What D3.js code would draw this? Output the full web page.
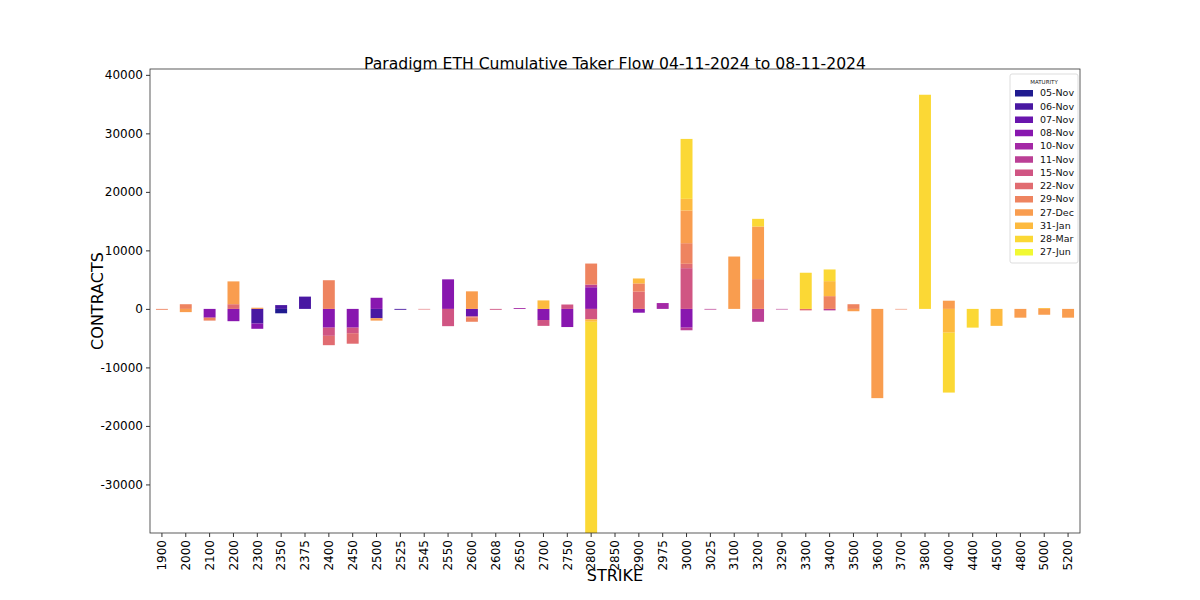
<!DOCTYPE html>
<html>
<head>
<meta charset="utf-8">
<script src="https://cdn.jsdelivr.net/npm/d3@7"></script>
<style>
  html, body { margin: 0; padding: 0; background: #fff; }
  svg { display: block; font-family: "DejaVu Sans", sans-serif; }
</style>
</head>
<body>
<svg id="chart" width="1200" height="600"></svg>
<script>
const strikes = ["1900","2000","2100","2200","2300","2350","2375","2400","2450","2500",
  "2525","2545","2550","2600","2608","2650","2700","2750","2800","2850",
  "2900","2975","3000","3025","3100","3200","3290","3300","3400","3500",
  "3600","3700","3800","4000","4400","4500","4800","5000","5200"];

const maturities = ["05-Nov","06-Nov","07-Nov","08-Nov","10-Nov","11-Nov","15-Nov","22-Nov","29-Nov","27-Dec","31-Jan","28-Mar","27-Jun"];

const nov05 = [0,0,0,0,0,-750,0,0,0,0, 0,0,0,0,0,0,0,0,0,0, 0,0,0,0,0,0,0,0,0,0, 0,0,0,0,0,0,0,0,0];
const nov06 = [0,0,0,0,-2500,650,2100,0,0,-1600, -150,0,0,0,0,0,0,0,0,0, 0,0,0,0,0,0,0,0,0,0, 0,0,0,0,0,0,0,0,0];
const nov07 = [0,0,0,0,0,0,0,0,0,0, 0,0,0,-1300,0,0,0,0,0,0, 0,0,0,0,0,0,0,0,0,0, 0,0,0,0,0,0,0,0,0];
const nov08 = [0,0,-1500,-2100,-900,0,0,-3200,-3200,1900, 0,0,5050,0,0,0,-1900,-3100,3700,0, -650,0,-3200,0,0,0,0,0,0,0, 0,0,0,0,0,0,0,0,0];
const nov10 = [0,0,0,0,0,0,0,0,0,0, 0,0,0,0,0,150,0,0,0,0, 0,1000,0,0,0,0,0,0,0,0, 0,0,0,0,0,0,0,0,0];
const nov11 = [0,0,0,0,0,0,0,0,0,0, 0,0,0,0,0,0,0,0,450,0, 0,0,-450,-120,0,-2200,-100,0,-250,0, 0,0,0,0,0,0,0,0,0];
const nov15 = [0,0,0,0,0,0,0,-1400,-950,0, 0,0,-2950,0,-150,0,-1000,750,-1800,0, 0,0,6960,0,0,0,0,0,0,0, 0,0,0,0,0,0,0,0,0];
const nov22 = [0,0,0,800,0,0,0,-1600,-1800,0, 0,-100,0,-150,0,0,0,0,0,0, 2950,0,750,0,0,0,0,-250,0,0, 0,0,0,0,0,0,0,0,0];
const nov29 = [-150,800,-500,0,0,0,0,4900,0,0, 0,0,0,-750,0,0,0,0,3600,0, 1400,0,3520,0,0,5090,0,0,2180,800, 0,-100,0,0,0,0,0,0,0];
const dec27 = [0,-550,0,3900,200,0,0,0,0,-400, 0,0,0,3000,0,0,0,0,0,0, 0,0,5580,0,8950,8990,0,0,0,-400, -15250,0,0,1400,0,0,-1500,-1000,-1500];
const jan31 = [0,0,0,0,0,0,0,0,0,0, 0,0,0,0,0,0,1450,0,-400,0, 850,0,2000,0,0,0,0,0,2560,0, 0,0,0,-4060,0,-2900,0,150,0];
const mar28 = [0,0,0,0,0,0,0,0,0,0, 0,0,0,0,0,0,0,0,-40000,0, 0,0,10240,0,0,1310,0,6180,2000,0, 0,0,36600,-10240,-3200,0,0,0,0];
const jun27 = [0,0,0,0,0,0,0,0,0,0, 0,0,0,0,0,0,0,0,0,0, 0,0,0,0,0,0,0,0,0,0, 0,0,0,0,0,0,0,0,0];

const seriesValues = [nov05,nov06,nov07,nov08,nov10,nov11,nov15,nov22,nov29,dec27,jan31,mar28,jun27];
const yTicks = [-30000,-20000,-10000,0,10000,20000,30000,40000];
const yDomain = [-38300, 41000];

const titleText = "Paradigm ETH Cumulative Taker Flow 04-11-2024 to 08-11-2024";

// build table
const table = strikes.map((s, i) => {
  const row = { strike: s };
  maturities.forEach((m, j) => row[m] = seriesValues[j][i]);
  return row;
});

const svg = d3.select("#chart");
const margin = { left: 150, right: 1080, top: 69, bottom: 533 };

const x = d3.scaleBand().domain(strikes).range([margin.left, margin.right]).paddingInner(0.5).paddingOuter(0.25);
const y = d3.scaleLinear().domain(yDomain).range([margin.bottom, margin.top]);
const color = d3.scaleOrdinal().domain(maturities).range(maturities.map((m, i) => d3.interpolatePlasma(i / (maturities.length - 1))));

const stacked = d3.stack().keys(maturities).offset(d3.stackOffsetDiverging)(table);

svg.append("defs").append("clipPath").attr("id", "plotclip")
  .append("rect").attr("x", margin.left).attr("y", margin.top)
  .attr("width", margin.right - margin.left).attr("height", margin.bottom - margin.top);

const g = svg.append("g").attr("clip-path", "url(#plotclip)");
g.selectAll("g.series").data(stacked).join("g").attr("class", "series")
  .attr("fill", d => color(d.key)).attr("fill-opacity", 0.92)
  .selectAll("rect").data(d => d.filter(p => p[1] !== p[0]))
  .join("rect")
  .attr("x", d => x(d.data.strike))
  .attr("width", x.bandwidth())
  .attr("y", d => y(Math.max(d[0], d[1])))
  .attr("height", d => Math.abs(y(d[0]) - y(d[1])));

// frame
svg.append("rect").attr("x", margin.left).attr("y", margin.top)
  .attr("width", margin.right - margin.left).attr("height", margin.bottom - margin.top)
  .attr("fill", "none").attr("stroke", "#333").attr("stroke-width", 0.8);

// y axis
const yAxis = d3.axisLeft(y).tickValues(yTicks).tickSize(4).tickPadding(3)
  .tickFormat(d => String(d));
const ya = svg.append("g").attr("transform", `translate(${margin.left},0)`).call(yAxis);
ya.select(".domain").remove();
ya.selectAll("text").attr("font-size", 12).attr("fill", "#000").attr("font-family", "DejaVu Sans");
ya.selectAll("line").attr("stroke", "#333");

// x axis
const xAxis = d3.axisBottom(x).tickSize(4).tickPadding(3);
const xa = svg.append("g").attr("transform", `translate(0,${margin.bottom})`).call(xAxis);
xa.select(".domain").remove();
xa.selectAll("line").attr("stroke", "#333");
xa.selectAll("text").attr("font-size", 12).attr("fill", "#000").attr("font-family", "DejaVu Sans")
  .attr("transform", "rotate(-90)")
  .attr("text-anchor", "end")
  .attr("x", -7).attr("y", 0).attr("dy", "0.35em");

// title and labels
svg.append("text").attr("x", (margin.left + margin.right) / 2).attr("y", 69)
  .attr("text-anchor", "middle").attr("font-size", 15.6).attr("fill", "#000").text(titleText);
svg.append("text").attr("transform", `translate(103,${(margin.top + margin.bottom) / 2}) rotate(-90)`)
  .attr("text-anchor", "middle").attr("font-size", 16).attr("fill", "#000").text("CONTRACTS");
svg.append("text").attr("x", (margin.left + margin.right) / 2).attr("y", 581)
  .attr("text-anchor", "middle").attr("font-size", 16).attr("fill", "#000").text("STRIKE");

// legend
const lg = svg.append("g").attr("transform", "translate(1010,74)");
lg.append("rect").attr("x", 0).attr("y", 0).attr("width", 68).attr("height", 189)
  .attr("fill", "#fff").attr("fill-opacity", 0.8).attr("stroke", "#ddd").attr("rx", 2);
lg.append("text").attr("x", 34).attr("y", 10).attr("text-anchor", "middle")
  .attr("font-size", 5.5).attr("fill", "#222").text("MATURITY");
const items = lg.selectAll("g.item").data(maturities).join("g").attr("class", "item")
  .attr("transform", (d, i) => `translate(0,${19 + i * 13.25})`);
items.append("rect").attr("x", 5).attr("y", -3).attr("width", 18).attr("height", 6.5)
  .attr("fill", d => color(d)).attr("fill-opacity", 0.92);
items.append("text").attr("x", 30).attr("y", 0).attr("dy", "0.35em")
  .attr("font-size", 9.5).attr("fill", "#111").text(d => d);
</script>
</body>
</html>
